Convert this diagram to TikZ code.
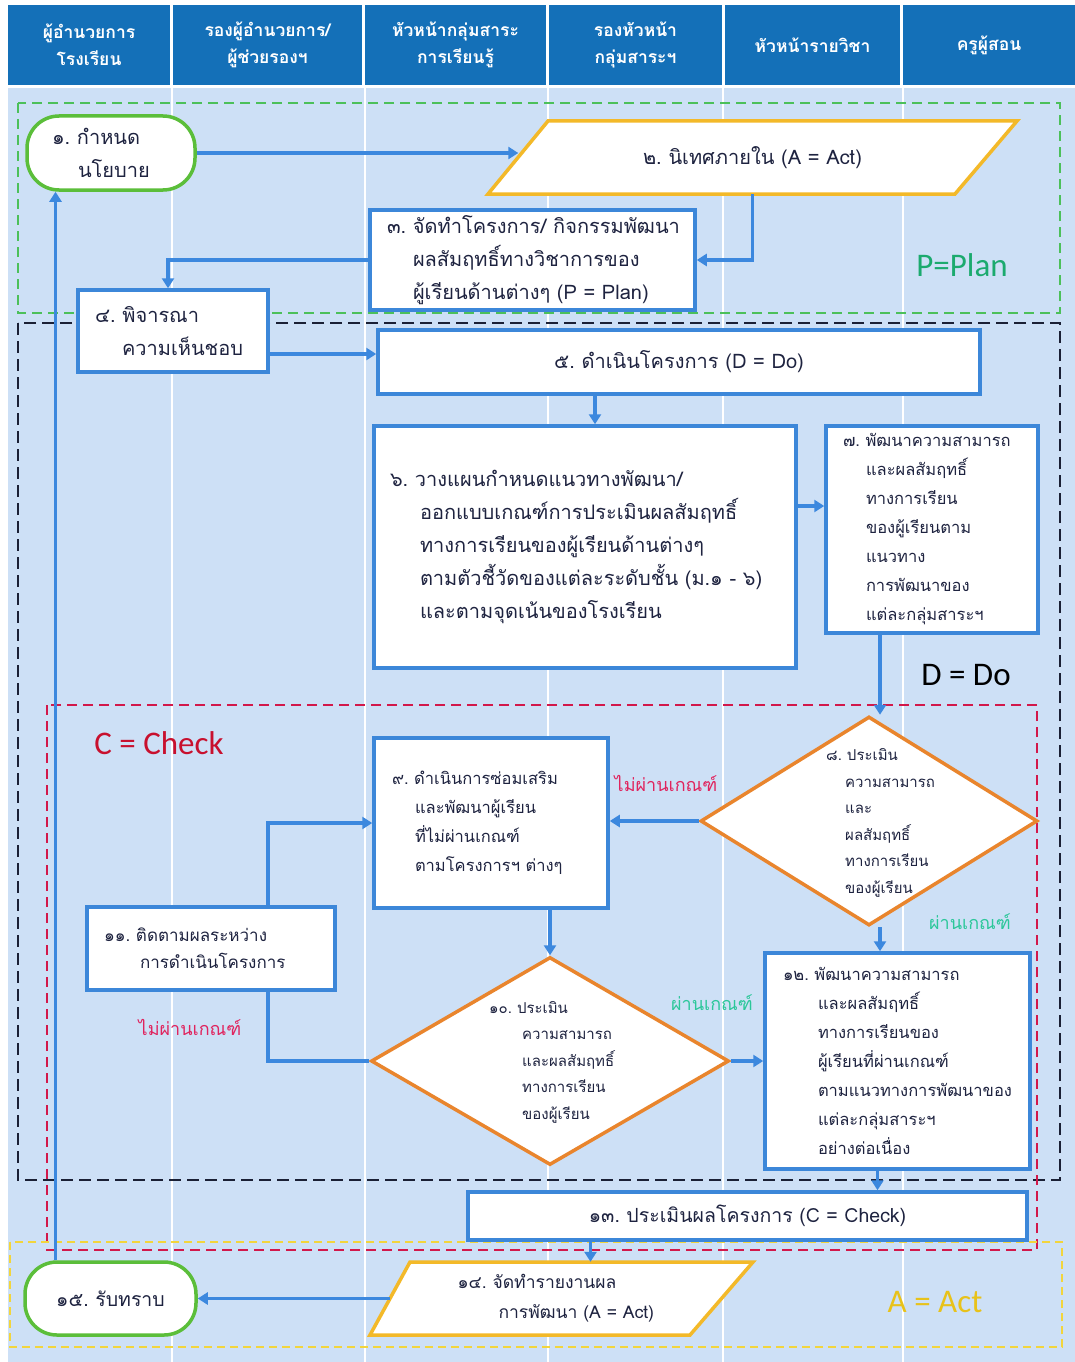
\documentclass[tikz,border=0pt]{standalone}
\usepackage{fontspec}
\setmainfont{Loma}[Script=Thai]
\newfontfamily\latinf{Carlito}
\usetikzlibrary{shapes.geometric,arrows.meta,calc}
\definecolor{headblue}{HTML}{1470B8}
\definecolor{bodybg}{HTML}{CDE0F6}
\definecolor{boxblue}{HTML}{3C87D9}
\definecolor{arrblue}{HTML}{3C88DE}
\definecolor{diaorange}{HTML}{E9852D}
\definecolor{paraylw}{HTML}{F3B929}
\definecolor{termgreen}{HTML}{5BBE3A}
\definecolor{pdash}{HTML}{4CC05A}
\definecolor{plabel}{HTML}{1BAA6E}
\definecolor{ddash}{HTML}{1A2035}
\definecolor{cdash}{HTML}{D2184A}
\definecolor{clabel}{HTML}{C8102E}
\definecolor{adash}{HTML}{F2D53C}
\definecolor{alabel}{HTML}{E8C21A}
\definecolor{failc}{HTML}{E0245E}
\definecolor{passc}{HTML}{2CC79A}
\definecolor{txt}{HTML}{1E2340}
\tikzset{
  hcell/.style={fill=headblue, text=white, align=center, inner sep=0pt, font=\bfseries\fontsize{17.5pt}{27pt}\selectfont},
  box/.style={draw=boxblue, line width=3.5pt, fill=white, align=left, inner ysep=0pt, text=txt},
  term/.style={draw=termgreen, line width=3.5pt, fill=white, rounded corners=32pt, align=left, inner ysep=0pt, text=txt},
  parashape/.style={draw=paraylw, line width=3.5pt, fill=white, line join=miter},
  paratext/.style={inner sep=0pt, align=left, text=txt},
  dia/.style={diamond, draw=diaorange, line width=3.5pt, fill=white, inner sep=0pt},
  dtext/.style={anchor=west, inner sep=0pt, align=left, text=txt, font=\fontsize{15pt}{26.5pt}\selectfont},
  arr/.style={draw=arrblue, line width=3.5pt, -{Triangle[length=10pt,width=12pt]}},
  plain/.style={draw=arrblue, line width=3.5pt},
  fbig/.style={font=\fontsize{20pt}{33pt}\selectfont},
  fmid/.style={font=\fontsize{16.5pt}{29pt}\selectfont},
  regionbox/.style={line width=2pt},
  biglabel/.style={inner sep=0pt, font=\latinf\fontsize{33pt}{33pt}\selectfont},
  cond/.style={inner sep=0pt, font=\fontsize{18pt}{20pt}\selectfont}
}
\begin{document}
\begin{tikzpicture}[x=1pt,y=-1pt]
\useasboundingbox (0,0) rectangle (1075,1362);
\fill[white] (0,0) rectangle (1075,1362);
\fill[bodybg] (8,88) rectangle (1075,1362);
% column separators
\foreach \cx in {172,365,548,723,903}{\draw[white, line width=2pt] (\cx,88) -- (\cx,1362);}
% header
\node[hcell, minimum width=162pt, minimum height=80pt] (h1) at (89,45) {ผู้อำนวยการ\\โรงเรียน};
\node[hcell, minimum width=189pt, minimum height=80pt] (h2) at (267.5,45) {รองผู้อำนวยการ/\\ผู้ช่วยรองฯ};
\node[hcell, minimum width=181pt, minimum height=80pt] (h3) at (455.5,45) {หัวหน้ากลุ่มสาระ\\การเรียนรู้};
\node[hcell, minimum width=173pt, minimum height=80pt] (h4) at (635.5,45) {รองหัวหน้า\\กลุ่มสาระฯ};
\node[hcell, minimum width=175pt, minimum height=80pt] (h5) at (812.5,45) {หัวหน้ารายวิชา};
\node[hcell, minimum width=172pt, minimum height=80pt] (h6) at (989,45) {ครูผู้สอน};
% region boxes
\draw[regionbox, pdash, dash pattern=on 10pt off 6pt] (18,103) rectangle (1060,313);
\draw[regionbox, ddash, dash pattern=on 12pt off 6pt] (18,323) rectangle (1060,1180);
\draw[regionbox, cdash, dash pattern=on 10pt off 6pt] (47,705) rectangle (1037,1250);
\draw[regionbox, adash, dash pattern=on 8pt off 5pt] (10,1242) rectangle (1062,1347);
\node[biglabel, text=plabel] (lp) at (962,265) {P=Plan};
\node[biglabel, text=black] (ld) at (966,675) {D = Do};
\node[biglabel, text=clabel] (lc) at (159,743) {C = Check};
\node[biglabel, text=alabel] (la) at (935,1302) {A = Act};
% nodes
\node[term, fbig, minimum width=168pt, minimum height=74pt, text width=118pt, inner xsep=25pt] (n1) at (111,153)
  {๑.~กำหนด\\\hspace*{26pt}นโยบาย};
\draw[parashape] (488,194) -- (548,121) -- (1017,121) -- (955,194) -- cycle;
\node[paratext, fbig, minimum width=468pt, minimum height=73pt, align=center] (n2) at (752.5,157.5)
  {๒.~นิเทศภายใน~(A~=~Act)};
\node[box, fbig, minimum height=100pt, text width=291pt, inner xsep=17pt] (n3) at (532.5,260)
  {๓.~จัดทำโครงการ/~กิจกรรมพัฒนา\\\hspace*{26pt}ผลสัมฤทธิ์ทางวิชาการของ\\\hspace*{26pt}ผู้เรียนด้านต่างๆ~(P~=~Plan)};
\node[box, fbig, minimum height=82pt, text width=156pt, inner xsep=17pt] (n4) at (173,331)
  {๔.~พิจารณา\\\hspace*{27pt}ความเห็นชอบ};
\node[box, fbig, align=center, minimum height=64pt, minimum width=602pt] (n5) at (679,362)
  {๕.~ดำเนินโครงการ~(D~=~Do)};
\node[box, fbig, minimum height=242pt, text width=390pt, inner xsep=16pt] (n6) at (585,547)
  {๖.~วางแผนกำหนดแนวทางพัฒนา/\\\hspace*{30pt}ออกแบบเกณฑ์การประเมินผลสัมฤทธิ์\\\hspace*{30pt}ทางการเรียนของผู้เรียนด้านต่างๆ\\\hspace*{30pt}ตามตัวชี้วัดของแต่ละระดับชั้น~(ม.๑~-~๖)\\\hspace*{30pt}และตามจุดเน้นของโรงเรียน};
\node[box, fmid, minimum height=207pt, text width=178pt, inner xsep=17pt] (n7) at (932,529.5)
  {๗.~พัฒนาความสามารถ\\\hspace*{23pt}และผลสัมฤทธิ์\\\hspace*{23pt}ทางการเรียน\\\hspace*{23pt}ของผู้เรียนตาม\\\hspace*{23pt}แนวทาง\\\hspace*{23pt}การพัฒนาของ\\\hspace*{23pt}แต่ละกลุ่มสาระฯ};
\node[dia, minimum width=337pt, minimum height=209pt] (n8) at (869,821) {};
\node[dtext] (t8) at (826,823)
  {๘.~ประเมิน\\\hspace*{19pt}ความสามารถ\\\hspace*{19pt}และ\\\hspace*{19pt}ผลสัมฤทธิ์\\\hspace*{19pt}ทางการเรียน\\\hspace*{19pt}ของผู้เรียน};
\node[box, fmid, minimum height=170pt, text width=198pt, inner xsep=18pt] (n9) at (491,823)
  {๙.~ดำเนินการซ่อมเสริม\\\hspace*{23pt}และพัฒนาผู้เรียน\\\hspace*{23pt}ที่ไม่ผ่านเกณฑ์\\\hspace*{23pt}ตามโครงการฯ~ต่างๆ};
\node[dia, minimum width=358pt, minimum height=208pt] (n10) at (550,1061) {};
\node[dtext] (t10) at (489,1062)
  {๑๐.~ประเมิน\\\hspace*{33pt}ความสามารถ\\\hspace*{33pt}และผลสัมฤทธิ์\\\hspace*{33pt}ทางการเรียน\\\hspace*{33pt}ของผู้เรียน};
\node[box, font=\fontsize{17pt}{27pt}\selectfont, minimum height=83pt, text width=214pt, inner xsep=17pt] (n11) at (211,948.5)
  {๑๑.~ติดตามผลระหว่าง\\\hspace*{36pt}การดำเนินโครงการ};
\node[box, fmid, minimum height=216pt, text width=229pt, inner xsep=18pt] (n12) at (897.5,1061)
  {๑๒.~พัฒนาความสามารถ\\\hspace*{35pt}และผลสัมฤทธิ์\\\hspace*{35pt}ทางการเรียนของ\\\hspace*{35pt}ผู้เรียนที่ผ่านเกณฑ์\\\hspace*{35pt}ตามแนวทางการพัฒนาของ\\\hspace*{35pt}แต่ละกลุ่มสาระฯ\\\hspace*{35pt}อย่างต่อเนื่อง};
\node[box, font=\fontsize{19.5pt}{30pt}\selectfont, align=center, minimum height=48pt, minimum width=559pt] (n13) at (747.5,1216)
  {๑๓.~ประเมินผลโครงการ~(C~=~Check)};
\draw[parashape] (370,1335) -- (410,1262) -- (753,1262) -- (690,1335) -- cycle;
\node[paratext, font=\fontsize{17.5pt}{30pt}\selectfont, minimum width=331.5pt, minimum height=73pt] (n14) at (555.75,1298.5)
  {๑๔.~จัดทำรายงานผล\\\hspace*{41pt}การพัฒนา~(A~=~Act)};
\node[term, font=\fontsize{19.5pt}{30pt}\selectfont, align=center, minimum width=171pt, minimum height=73pt] (n15) at (110.5,1298.5)
  {๑๕.~รับทราบ};
% connectors
\draw[arr] (n1.east) -- (n1.east -| n2.west);
\draw[arr] (n2.south) |- (n3.east);
\draw[arr] (n3.west) -| ([xshift=-5pt]n4.north);
\draw[arr] ([yshift=-23pt]n4.east) -- ([yshift=-23pt]n4.east -| n5.west);
\draw[arr] ([xshift=10pt]n6.north |- n5.south) -- ([xshift=10pt]n6.north);
\draw[arr] ([yshift=41pt]n6.east) -- ([yshift=41pt]n6.east -| n7.west);
\draw[arr] ([xshift=-52pt]n7.south) -- ([xshift=-52pt]n7.south |- n8.north);
\draw[arr] (n8.west) -- (n8.west -| n9.east);
\node[cond, text=failc] (f1) at (666,783) {ไม่ผ่านเกณฑ์};
\draw[arr] ([xshift=11pt]n8.south) -- ([xshift=11pt]n8.south |- n12.north);
\node[cond, text=passc] (p1) at (970,922) {ผ่านเกณฑ์};
\draw[arr] (n10.north |- n9.south) -- (n10.north);
\draw[arr] (n10.east) -- (n10.east -| n12.west);
\node[cond, text=passc] (p2) at (712,1003) {ผ่านเกณฑ์};
\draw[plain] ([xshift=57pt]n11.south) |- (n10.west);
\node[cond, text=failc] (f2) at (190,1027) {ไม่ผ่านเกณฑ์};
\draw[arr] ([xshift=57pt]n11.north) |- (n9.west);
\draw[arr] ([xshift=-20pt]n12.south) -- ([xshift=-20pt]n12.south |- n13.north);
\draw[arr] ([xshift=-157pt]n13.south) -- ([xshift=-157pt]n13.south |- n14.north);
\draw[arr] (n14.west) -- (n14.west -| n15.east);
\draw[arr] ([xshift=-55pt]n15.north) -- ([xshift=-55pt]n15.north |- n1.south);
\end{tikzpicture}
\end{document}
